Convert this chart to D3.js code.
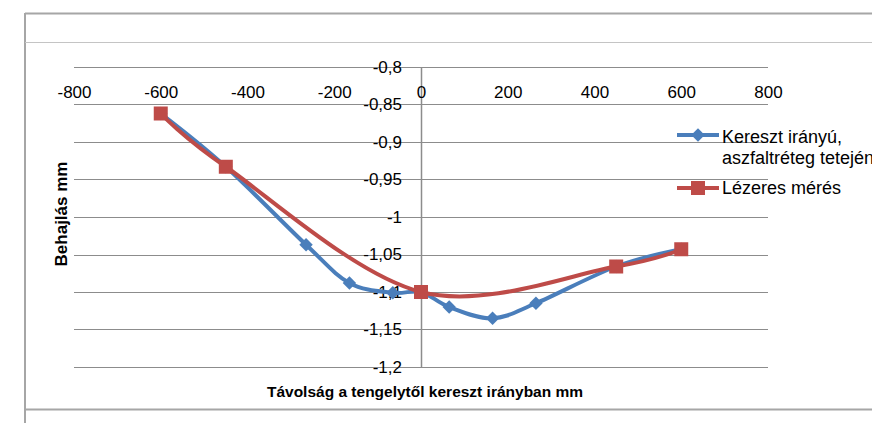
<!DOCTYPE html>
<html>
<head>
<meta charset="utf-8">
<script src="https://cdn.jsdelivr.net/npm/d3@7"></script>
<style>
  html, body { margin: 0; padding: 0; background: #fff; }
  svg { display: block; font-family: "Liberation Sans", Arial, sans-serif; }
</style>
</head>
<body>
<svg id="chart" width="872" height="423"></svg>
<script>
// Keresztirányú lehajlás (mm) a tengelytől mért távolság függvényében
const xTicks = [-800, -600, -400, -200, 0, 200, 400, 600, 800];
const yTicks = [-0.8, -0.85, -0.9, -0.95, -1, -1.05, -1.1, -1.15, -1.2];

const seriesNames = ["Kereszt irányú,\naszfaltréteg tetején", "Lézeres mérés"];

const keresztX = [-600, -450, -265, -165, -65, 0, 65, 165, 265, 450, 600];
const keresztY = [-0.862, -0.933, -1.037, -1.088, -1.101, -1.1, -1.12, -1.135, -1.115, -1.066, -1.043];

const lezerX = [-600, -450, 0, 450, 600];
const lezerY = [-0.862, -0.933, -1.1, -1.066, -1.043];

const xTitle = "Távolság a tengelytől kereszt irányban mm";
const yTitle = "Behajlás mm";

const blue = "#4a7ebb", red = "#be4b48", grid = "#8c8c8c", frame = "#a6a6a6";

const svg = d3.select("#chart");

// keret
svg.append("line").attr("x1", 25).attr("x2", 872).attr("y1", 13.5).attr("y2", 13.5)
  .attr("stroke", frame).attr("stroke-width", 2);
svg.append("line").attr("x1", 25).attr("x2", 25).attr("y1", 13).attr("y2", 423)
  .attr("stroke", frame).attr("stroke-width", 2);
svg.append("line").attr("x1", 25).attr("x2", 872).attr("y1", 42.5).attr("y2", 42.5)
  .attr("stroke", "#c4c4c4").attr("stroke-width", 1);
svg.append("line").attr("x1", 25).attr("x2", 872).attr("y1", 409.5).attr("y2", 409.5)
  .attr("stroke", frame).attr("stroke-width", 2);

const x = d3.scaleLinear().domain([-800, 800]).range([74, 768]);
const y = d3.scaleLinear().domain([-1.2, -0.8]).range([367, 67]);

const fmt = v => String(+v.toFixed(2)).replace(".", ",").replace("\u2212", "-");

// vízszintes rácsvonalak
svg.append("g").selectAll("line").data(yTicks).join("line")
  .attr("x1", x(-800)).attr("x2", x(800))
  .attr("y1", d => Math.round(y(d)) + 0.5).attr("y2", d => Math.round(y(d)) + 0.5)
  .attr("stroke", grid).attr("stroke-width", 1);

// függőleges tengely (x = 0)
svg.append("line").attr("x1", Math.round(x(0)) + 0.5).attr("x2", Math.round(x(0)) + 0.5)
  .attr("y1", y(-0.8)).attr("y2", y(-1.2)).attr("stroke", grid).attr("stroke-width", 1.5);

// x tengely feliratai (felül)
const xAxis = svg.append("g").attr("transform", `translate(0,${y(-0.8)})`)
  .call(d3.axisBottom(x).tickValues(xTicks).tickSize(0).tickPadding(19).tickFormat(fmt));
xAxis.select(".domain").remove();
xAxis.selectAll("text").attr("font-size", 17).attr("fill", "#000")
  .attr("font-family", "'Liberation Sans', Arial, sans-serif");

// y tengely feliratai
const yAxis = svg.append("g").attr("transform", `translate(${x(0)},0)`)
  .call(d3.axisLeft(y).tickValues(yTicks).tickSize(0).tickPadding(19).tickFormat(fmt));
yAxis.select(".domain").remove();
yAxis.selectAll("text").attr("font-size", 17).attr("fill", "#000")
  .attr("font-family", "'Liberation Sans', Arial, sans-serif");

// tengelycímek
svg.append("text").attr("x", 425).attr("y", 397).attr("text-anchor", "middle")
  .attr("font-size", 15.5).attr("font-weight", "bold").text(xTitle);
svg.append("text").attr("transform", `translate(67,214) rotate(-90)`).attr("text-anchor", "middle")
  .attr("font-size", 17).attr("font-weight", "bold").text(yTitle);

// simított vonalak
const line = d3.line().x(d => x(d[0])).y(d => y(d[1])).curve(d3.curveCatmullRom.alpha(0));
const keresztPts = keresztX.map((v, i) => [v, keresztY[i]]);
const lezerPts = lezerX.map((v, i) => [v, lezerY[i]]);

const diamond = d3.symbol().type(d3.symbolDiamond2).size(115);

svg.append("path").datum(keresztPts).attr("d", line)
  .attr("fill", "none").attr("stroke", blue).attr("stroke-width", 4).attr("stroke-linejoin", "round");
svg.append("g").selectAll("path").data(keresztPts).join("path")
  .attr("d", diamond).attr("transform", d => `translate(${x(d[0])},${y(d[1])})`)
  .attr("fill", blue);

svg.append("path").datum(lezerPts).attr("d", line)
  .attr("fill", "none").attr("stroke", red).attr("stroke-width", 4).attr("stroke-linejoin", "round");
svg.append("g").selectAll("rect").data(lezerPts).join("rect")
  .attr("x", d => x(d[0]) - 7).attr("y", d => y(d[1]) - 7)
  .attr("width", 14).attr("height", 14).attr("fill", red);

// jelmagyarázat
const lg = svg.append("g");
const l1 = lg.append("g").attr("transform", "translate(0,135)");
l1.append("line").attr("x1", 677).attr("x2", 719).attr("stroke", blue).attr("stroke-width", 4);
l1.append("path").attr("d", diamond).attr("transform", "translate(698,0)").attr("fill", blue);
const t1 = lg.append("text").attr("x", 722).attr("y", 143).attr("font-size", 18);
seriesNames[0].split("\n").forEach((s, i) => {
  t1.append("tspan").attr("x", 722).attr("dy", i ? 21 : 0).text(s);
});
const l2 = lg.append("g").attr("transform", "translate(0,188)");
l2.append("line").attr("x1", 677).attr("x2", 719).attr("stroke", red).attr("stroke-width", 4);
l2.append("rect").attr("x", 691).attr("y", -7).attr("width", 14).attr("height", 14).attr("fill", red);
lg.append("text").attr("x", 722).attr("y", 194).attr("font-size", 18).text(seriesNames[1]);
</script>
</body>
</html>
